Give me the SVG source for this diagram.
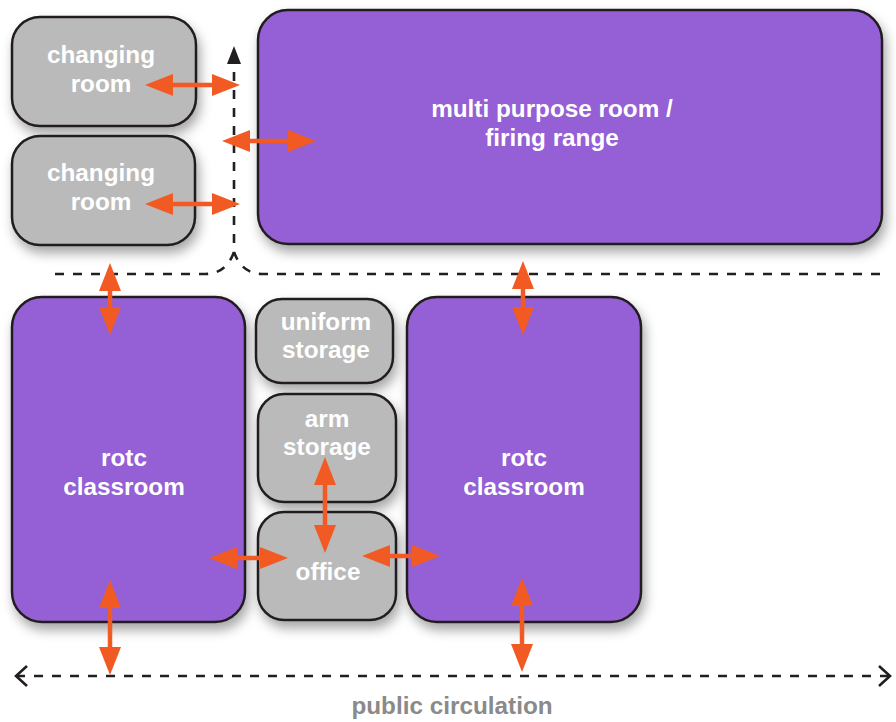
<svg xmlns="http://www.w3.org/2000/svg" width="896" height="722" viewBox="0 0 896 722">
<defs>
<filter id="sh" x="-20%" y="-20%" width="140%" height="150%">
<feDropShadow dx="3" dy="7" stdDeviation="6" flood-color="#000" flood-opacity="0.35"/>
</filter>
<marker id="oh" viewBox="0 0 28 22" refX="8" refY="11" markerWidth="28" markerHeight="22" markerUnits="userSpaceOnUse" orient="auto-start-reverse">
<path d="M0,0 L28,11 L0,22 Z" fill="#f15a22"/>
</marker>
<marker id="bh" viewBox="0 0 18 14" refX="1" refY="7" markerWidth="18" markerHeight="14" markerUnits="userSpaceOnUse" orient="auto">
<path d="M0,0 L18,7 L0,14 Z" fill="#231f20"/>
</marker>
<marker id="ch" viewBox="0 0 14 24" refX="12" refY="12" markerWidth="14" markerHeight="24" markerUnits="userSpaceOnUse" orient="auto-start-reverse">
<path d="M1,2 L12,12 L1,22" fill="none" stroke="#231f20" stroke-width="2.6"/>
</marker>
</defs>
<style>
.p{fill:#9560d5;stroke:#231f20;stroke-width:2.5;filter:url(#sh)}
.g{fill:#bababa;stroke:#231f20;stroke-width:2.5;filter:url(#sh)}
.t{font-family:"Liberation Sans",Arial,sans-serif;font-weight:bold;font-size:24.3px;fill:#fff;text-anchor:middle}
.d{fill:none;stroke:#231f20;stroke-width:2.6;stroke-dasharray:9 9}
.o{stroke:#f15a22;stroke-width:4.5;fill:none;marker-start:url(#oh);marker-end:url(#oh)}
</style>
<rect width="896" height="722" fill="#fff"/>
<g id="changing-room-1"><rect class="g" x="12" y="17" width="184" height="109" rx="28"/><text class="t" x="101" y="63">changing</text><text class="t" x="101" y="92">room</text></g>
<g id="changing-room-2"><rect class="g" x="12" y="136" width="183" height="109" rx="28"/><text class="t" x="101" y="181">changing</text><text class="t" x="101" y="210">room</text></g>
<g id="multi-purpose"><rect class="p" x="258" y="10" width="624" height="234" rx="30"/><text class="t" x="552" y="117">multi purpose room /</text><text class="t" x="552" y="146">firing range</text></g>
<g id="rotc-classroom-1"><rect class="p" x="12" y="297" width="233" height="325" rx="30"/><text class="t" x="124" y="466">rotc</text><text class="t" x="124" y="495">classroom</text></g>
<g id="uniform-storage"><rect class="g" x="256" y="299" width="137" height="84" rx="26"/><text class="t" x="326" y="330">uniform</text><text class="t" x="326" y="358">storage</text></g>
<g id="arm-storage"><rect class="g" x="258" y="394" width="138" height="108" rx="26"/><text class="t" x="327" y="427">arm</text><text class="t" x="327" y="455">storage</text></g>
<g id="office"><rect class="g" x="258" y="512" width="138" height="108" rx="26"/><text class="t" x="328" y="580">office</text></g>
<g id="rotc-classroom-2"><rect class="p" x="407" y="297" width="234" height="325" rx="30"/><text class="t" x="524" y="466">rotc</text><text class="t" x="524" y="495">classroom</text></g>
<g id="public-circulation"><text x="452" y="714" style="font-family:'Liberation Sans',Arial,sans-serif;font-weight:bold;font-size:24.3px;fill:#8a8a8a;text-anchor:middle">public circulation</text></g>
<g id="connectors">
<path class="d" d="M55,274 H205 Q226,274 234,252 V63" marker-end="url(#bh)"/>
<path class="d" d="M880,274 H262 Q242,274 234,252"/>
<path class="d" d="M16,676 H890" style="marker-start:url(#ch);marker-end:url(#ch)"/>
<line class="o" x1="165" y1="85" x2="220" y2="85"/>
<line class="o" x1="242" y1="141" x2="296" y2="141"/>
<line class="o" x1="165" y1="204" x2="220" y2="204"/>
<line class="o" x1="110" y1="283" x2="110" y2="315"/>
<line class="o" x1="523" y1="281" x2="523" y2="315"/>
<line class="o" x1="325" y1="477" x2="325" y2="533"/>
<line class="o" x1="229" y1="558" x2="268" y2="558"/>
<line class="o" x1="382" y1="556" x2="420" y2="556"/>
<line class="o" x1="110" y1="600" x2="110" y2="655"/>
<line class="o" x1="522" y1="598" x2="522" y2="652"/>
</g>
</svg>
